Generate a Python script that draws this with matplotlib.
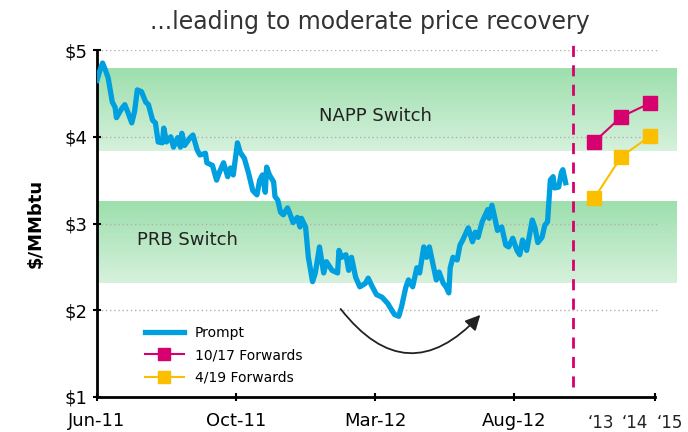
import numpy as np
import matplotlib.pyplot as plt
from matplotlib.colors import LinearSegmentedColormap

# prompt price, x = trading-day index from Jun-11
prompt_x = [0, 2, 4, 6, 8, 11, 13, 14, 18, 20, 22, 25, 27, 29, 32, 35, 37, 40, 42, 44,
            47, 48, 50, 53, 55, 58, 60, 61, 63, 67, 69, 72, 74, 78, 79, 83, 86, 88, 91, 94,
            96, 98, 101, 103, 106, 109, 112, 115, 117, 119, 121, 122, 124, 127, 128, 130, 132, 134, 137, 139,
            141, 144, 146, 147, 150, 152, 155, 157, 160, 163, 165, 169, 173, 174, 176, 179, 181, 183, 186, 189,
            193, 195, 198, 201, 205, 209, 212, 214, 217, 219, 222, 224, 227, 230, 232, 235, 237, 239, 241, 244,
            246, 249, 251, 253, 254, 256, 259, 261, 263, 267, 270, 272, 274, 277, 281, 282, 284, 286, 288, 291,
            294, 296, 299, 302, 304, 306, 309, 313, 315, 317, 320, 322, 324, 326, 328, 329, 332, 334, 335, 337]
prompt_y = [4.65, 4.76, 4.85, 4.77, 4.68, 4.40, 4.34, 4.22, 4.33, 4.37, 4.29, 4.16, 4.29, 4.54, 4.52, 4.40, 4.37, 4.19, 4.16, 3.94,
            3.93, 4.10, 3.94, 4.00, 3.88, 3.99, 3.88, 4.04, 3.90, 3.99, 4.02, 3.85, 3.79, 3.81, 3.70, 3.67, 3.50, 3.59, 3.70, 3.54,
            3.64, 3.56, 3.93, 3.82, 3.75, 3.58, 3.38, 3.33, 3.50, 3.56, 3.36, 3.65, 3.56, 3.48, 3.31, 3.27, 3.13, 3.10, 3.18, 3.10,
            3.01, 3.07, 2.96, 3.06, 2.96, 2.61, 2.33, 2.43, 2.73, 2.43, 2.56, 2.46, 2.43, 2.69, 2.61, 2.64, 2.46, 2.61, 2.38, 2.27,
            2.31, 2.37, 2.27, 2.18, 2.15, 2.08, 2.00, 1.95, 1.93, 2.04, 2.26, 2.35, 2.27, 2.49, 2.43, 2.73, 2.61, 2.73, 2.58, 2.35,
            2.44, 2.31, 2.27, 2.20, 2.49, 2.61, 2.58, 2.75, 2.81, 2.95, 2.79, 2.90, 2.84, 3.02, 3.16, 3.06, 3.21, 3.07, 2.92, 2.96,
            2.75, 2.73, 2.83, 2.69, 2.64, 2.81, 2.69, 3.04, 2.95, 2.78, 2.84, 2.98, 3.02, 3.50, 3.54, 3.41, 3.42, 3.59, 3.62, 3.47]

fwd_x = [357.5, 377, 398]
fwd_oct17 = [3.94, 4.23, 4.39]
fwd_apr19 = [3.29, 3.77, 4.01]
year_labels = ["\u201813", "\u201814", "\u201815"]
year_x = [362, 387, 412]

date_ticks = [0, 100, 200, 300]
date_labels = ["Jun-11", "Oct-11", "Mar-12", "Aug-12"]

napp = (3.84, 4.79)
prb = (2.31, 3.25)

blue = "#009fdf"
magenta = "#d6006e"
yellow = "#fbbf00"

fig = plt.figure(figsize=(6.88, 4.32), dpi=100)
ax = fig.add_axes([97 / 688, 1 - 397 / 432, 1 - 97 / 688, 347 / 432])

# green bands with a vertical gradient
cmap = LinearSegmentedColormap.from_list("band", ["#d6f1dc", "#9ddfad"])
grad = np.linspace(0, 1, 100).reshape(-1, 1)
for lo, hi in (napp, prb):
    ax.imshow(grad, extent=(0, 416.5, lo, hi), origin="lower", cmap=cmap,
              aspect="auto", zorder=0)
ax.set_xlim(0, 425)
ax.set_ylim(1, 5)

ax.hlines([2, 3, 4, 5], 0, 404, colors="#b0b0b0", linestyles=(0, (1, 2)), lw=1, zorder=1)

ax.text(200, 4.24, "NAPP Switch", ha="center", va="center", fontsize=13, color="#222222")
ax.text(65, 2.81, "PRB Switch", ha="center", va="center", fontsize=13, color="#222222")

ax.plot(prompt_x, prompt_y, color=blue, lw=3.8, solid_joinstyle="round", label="Prompt", zorder=3)
ax.plot(fwd_x, fwd_oct17, color=magenta, lw=1.5, marker="s", ms=10, label="10/17 Forwards", zorder=3)
ax.plot(fwd_x, fwd_apr19, color=yellow, lw=1.5, marker="s", ms=10, label="4/19 Forwards", zorder=3)

ax.plot([342, 342], [1.115, 5.115], color=magenta, lw=2, ls=(0, (4, 3)), clip_on=False, zorder=2)

ax.annotate("", xy=(277, 1.97), xytext=(174, 2.04),
            arrowprops=dict(arrowstyle="-|>,head_length=0.9,head_width=0.45", color="#222222",
                            lw=1.3, connectionstyle="arc3,rad=0.6"))

for s in ("top", "right"):
    ax.spines[s].set_visible(False)
ax.spines["bottom"].set_bounds(0, 401)
ax.spines["left"].set_linewidth(2)
ax.spines["bottom"].set_linewidth(2)

ax.set_xticks(date_ticks + [401])
ax.set_xticklabels(date_labels + [""], fontsize=13)
ax.set_yticks([1, 2, 3, 4, 5])
ax.set_yticklabels(["$1", "$2", "$3", "$4", "$5"], fontsize=13)
ax.tick_params(length=6, width=1.5, direction="inout", pad=4)
ax.tick_params(axis="x", pad=8)

for x, lab in zip(year_x, year_labels):
    ax.text(x, -0.05, lab, transform=ax.get_xaxis_transform(), ha="center", va="top",
            fontsize=12, color="#222222")

ax.set_ylabel("$/MMbtu", fontsize=13, fontweight="bold", labelpad=14)
fig.text(370 / 688, 1 - 22 / 432, "...leading to moderate price recovery", ha="center",
         va="center", fontsize=17, color="#333333")

ax.legend(loc="lower left", bbox_to_anchor=(0.06, 0.0), frameon=False, fontsize=10,
          handlelength=2.8, labelspacing=0.6, markerscale=0.8)

fig.savefig("out.png", dpi=100)
